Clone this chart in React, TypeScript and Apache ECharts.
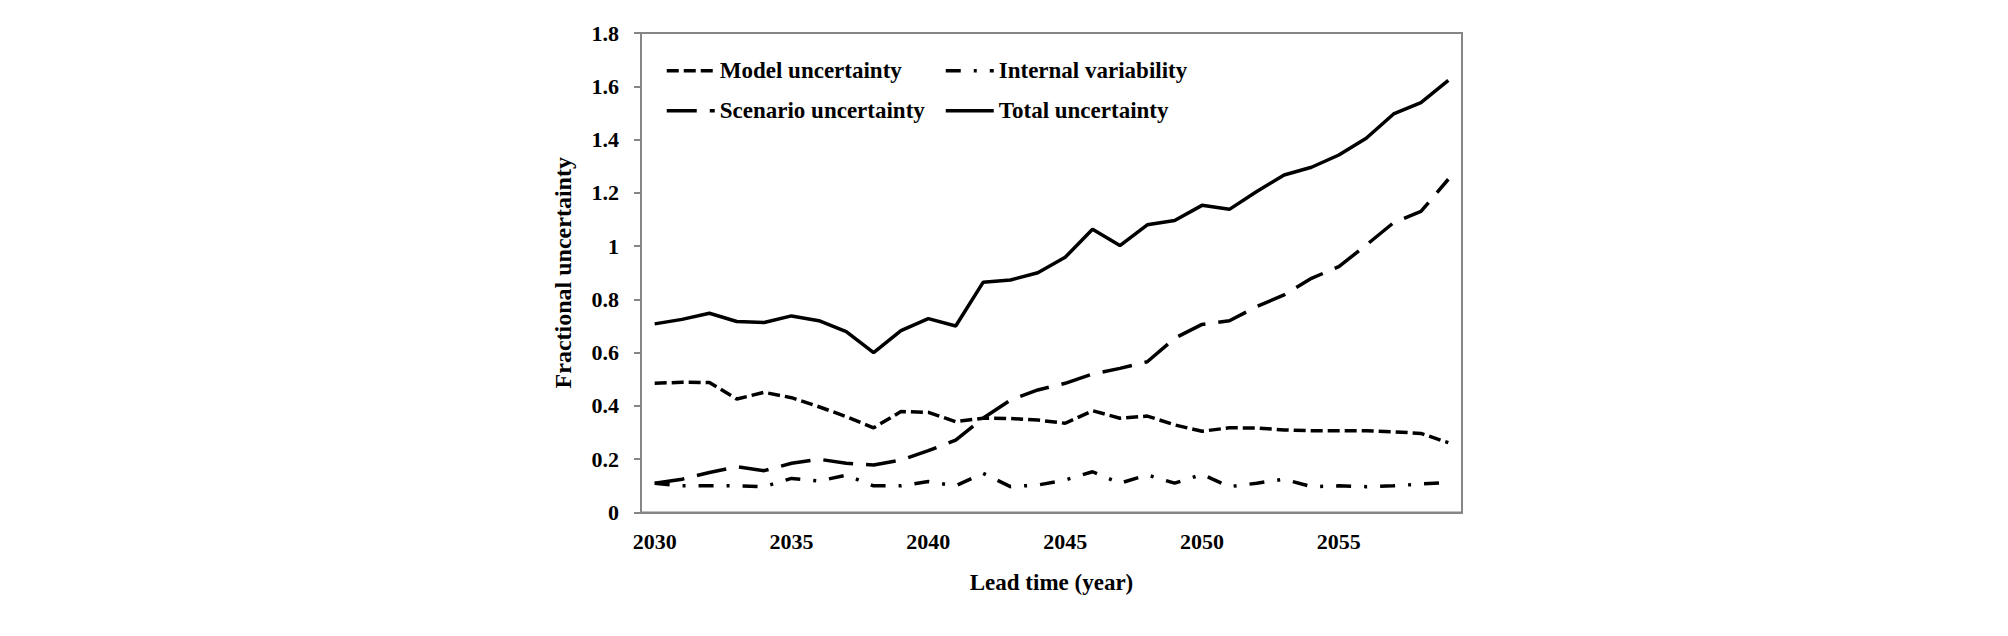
import React, { useEffect, useRef } from "react";
import * as echarts from "echarts";

const years = [
  "2030", "2031", "2032", "2033", "2034", "2035", "2036", "2037", "2038", "2039",
  "2040", "2041", "2042", "2043", "2044", "2045", "2046", "2047", "2048", "2049",
  "2050", "2051", "2052", "2053", "2054", "2055", "2056", "2057", "2058", "2059",
];

const modelUncertainty = [
  0.485, 0.489, 0.488, 0.426, 0.451, 0.431, 0.397, 0.36, 0.318, 0.379,
  0.376, 0.341, 0.354, 0.353, 0.347, 0.335, 0.382, 0.354, 0.362, 0.329,
  0.305, 0.318, 0.317, 0.31, 0.307, 0.307, 0.307, 0.303, 0.297, 0.262,
];

const internalVariability = [
  0.11, 0.1, 0.1, 0.1, 0.097, 0.128, 0.118, 0.14, 0.1, 0.1,
  0.116, 0.1, 0.147, 0.097, 0.103, 0.122, 0.153, 0.11, 0.141, 0.11,
  0.143, 0.097, 0.11, 0.125, 0.097, 0.1, 0.097, 0.1, 0.107, 0.112,
];

const scenarioUncertainty = [
  0.11, 0.125, 0.15, 0.172, 0.157, 0.185, 0.2, 0.185, 0.178, 0.197,
  0.232, 0.272, 0.354, 0.422, 0.46, 0.485, 0.52, 0.541, 0.566, 0.654,
  0.706, 0.72, 0.773, 0.817, 0.879, 0.923, 1.004, 1.088, 1.13, 1.251,
];

const totalUncertainty = [
  0.708, 0.725, 0.748, 0.717, 0.713, 0.738, 0.72, 0.679, 0.6, 0.683,
  0.728, 0.7, 0.864, 0.873, 0.9, 0.958, 1.063, 1.002, 1.08, 1.096,
  1.153, 1.138, 1.205, 1.267, 1.296, 1.342, 1.405, 1.496, 1.539, 1.622,
];

const FONT = "'Liberation Serif', 'Times New Roman', serif";
const AXIS_GRAY = "#868686";

export default function App() {
  const ref = useRef<HTMLDivElement>(null);

  useEffect(() => {
    if (!ref.current) return;
    const chart = echarts.init(ref.current, null, { renderer: "svg" });

    const textStyle = {
      fontFamily: FONT,
      fontWeight: "bold" as const,
      color: "#000",
    };

    const legendBase = {
      orient: "horizontal" as const,
      padding: 0,
      itemWidth: 48,
      itemHeight: 14,
      selectedMode: false,
      itemStyle: { opacity: 0 },
      lineStyle: { width: 3.5 },
      textStyle: { ...textStyle, fontSize: 23, lineHeight: 24 },
    };

    const lineSeries = (name: string, data: number[], type: any) => ({
      name,
      type: "line" as const,
      data,
      symbol: "none",
      showSymbol: false,
      lineStyle: { color: "#000", width: 3.5, type },
      itemStyle: { color: "#000" },
    });

    chart.setOption({
      animation: false,
      backgroundColor: "#fff",
      grid: {
        left: 641,
        right: 546,
        top: 33,
        bottom: 123.5,
        show: true,
        borderColor: AXIS_GRAY,
        borderWidth: 2,
        backgroundColor: "transparent",
      },
      legend: [
        { ...legendBase, left: 665, top: 58.7, data: ["Model uncertainty"] },
        { ...legendBase, left: 944, top: 58.7, data: ["Internal variability"] },
        { ...legendBase, left: 665, top: 98.7, data: ["Scenario uncertainty"] },
        { ...legendBase, left: 944, top: 98.7, data: ["Total uncertainty"] },
      ],
      xAxis: {
        type: "category",
        data: years,
        boundaryGap: true,
        name: "Lead time (year)",
        nameLocation: "middle",
        nameGap: 58,
        nameTextStyle: { ...textStyle, fontSize: 23 },
        axisLine: { show: true, lineStyle: { color: AXIS_GRAY, width: 2 } },
        axisTick: { show: false },
        axisLabel: {
          ...textStyle,
          fontSize: 22,
          interval: 4,
          margin: 18,
        },
        splitLine: { show: false },
      },
      yAxis: {
        type: "value",
        min: 0,
        max: 1.8,
        interval: 0.2,
        name: "Fractional uncertainty",
        nameLocation: "middle",
        nameGap: 66,
        nameTextStyle: { ...textStyle, fontSize: 24 },
        axisLine: { show: true, lineStyle: { color: AXIS_GRAY, width: 2 } },
        axisTick: { show: true, length: 7, lineStyle: { color: AXIS_GRAY, width: 2 } },
        axisLabel: { ...textStyle, fontSize: 22, margin: 22 },
        splitLine: { show: false },
      },
      series: [
        lineSeries("Model uncertainty", modelUncertainty, [12, 5]),
        lineSeries("Internal variability", internalVariability, [15, 13, 3, 13]),
        lineSeries("Scenario uncertainty", scenarioUncertainty, [30, 13]),
        lineSeries("Total uncertainty", totalUncertainty, "solid"),
      ],
    });

    return () => chart.dispose();
  }, []);

  return (
    <div
      ref={ref}
      style={{
        position: "fixed",
        left: 0,
        top: 0,
        width: 2008,
        height: 636,
        background: "#fff",
      }}
    />
  );
}
